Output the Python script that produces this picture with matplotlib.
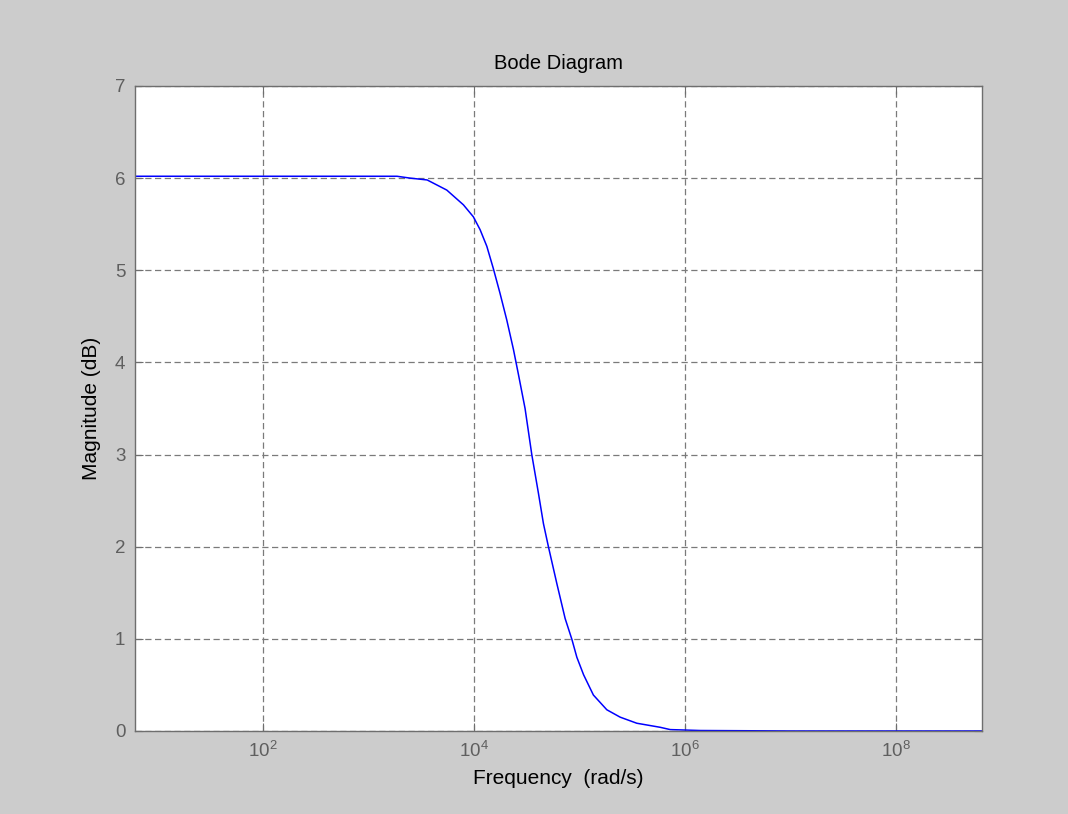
import matplotlib

matplotlib.use("Agg")
import matplotlib.pyplot as plt
from matplotlib.ticker import FixedLocator, NullLocator

plt.rcParams["font.family"] = ["Liberation Sans", "DejaVu Sans"]
plt.rcParams["mathtext.fontset"] = "custom"
plt.rcParams["mathtext.rm"] = "Liberation Sans"
plt.rcParams["mathtext.it"] = "Liberation Sans"

# ----- data ----------------------------------------------------------------

# frequency (rad/s) and magnitude (dB)
freq = [6.12, 1.0e2, 1.0e3, 1.86e3, 2.47e3, 3.59e3, 5.51e3, 7.92e3, 9.84e3,
        1.14e4, 1.32e4, 1.52e4, 1.76e4, 2.04e4, 2.36e4, 2.63e4, 3.04e4,
        3.52e4, 4.07e4, 4.54e4, 5.06e4, 6.08e4, 7.29e4, 8.44e4, 9.41e4,
        1.09e5, 1.35e5, 1.81e5, 2.42e5, 3.48e5, 5.79e5, 7.21e5, 1.39e6,
        1.0e7, 1.0e8, 6.5e8]
mag_db = [6.02, 6.02, 6.02, 6.02, 6.00, 5.98, 5.87, 5.71, 5.58,
          5.44, 5.26, 5.02, 4.75, 4.46, 4.14, 3.87, 3.50,
          3.00, 2.58, 2.25, 2.00, 1.60, 1.22, 0.995, 0.80,
          0.61, 0.39, 0.23, 0.15, 0.084, 0.04, 0.015, 0.005,
          0.0, 0.0, 0.0]

x_ticks = [1e2, 1e4, 1e6, 1e8]
x_tick_labels = [r"$10^{2}$", r"$10^{4}$", r"$10^{6}$", r"$10^{8}$"]
y_ticks = [0, 1, 2, 3, 4, 5, 6, 7]

# ----- figure ---------------------------------------------------------------

bg = "#cccccc"
axis_grey = "#6e6e6e"

fig = plt.figure(figsize=(10.68, 8.14), dpi=100, facecolor=bg)
ax = fig.add_axes([0.1264, 0.102, 0.7931, 0.7924])
ax.set_facecolor("white")

ax.plot(freq, mag_db, color="#0000ff", lw=1.1)

ax.set_xscale("log")
ax.set_xlim(6.12, 6.5e8)
ax.set_ylim(0, 7)
ax.xaxis.set_major_locator(FixedLocator(x_ticks))
ax.xaxis.set_minor_locator(NullLocator())
ax.set_xticklabels(x_tick_labels)
ax.set_yticks(y_ticks)

ax.grid(True, color="#7a7a7a", ls=(0, (5.0, 2.8)), lw=0.9)
ax.tick_params(which="both", direction="in", top=True, right=True,
               length=6, width=0.8, color=axis_grey, labelcolor="#5f5f5f",
               labelsize=13.5, pad=7)
for sp in ax.spines.values():
    sp.set_color(axis_grey)
    sp.set_linewidth(1.0)

ax.set_title("Bode Diagram", fontsize=14.5, pad=12)
ax.set_xlabel("Frequency  (rad/s)", fontsize=15, labelpad=6)
ax.set_ylabel("Magnitude (dB)", fontsize=15, labelpad=10)

fig.savefig("out.png", dpi=100, facecolor=bg)
plt.close(fig)
